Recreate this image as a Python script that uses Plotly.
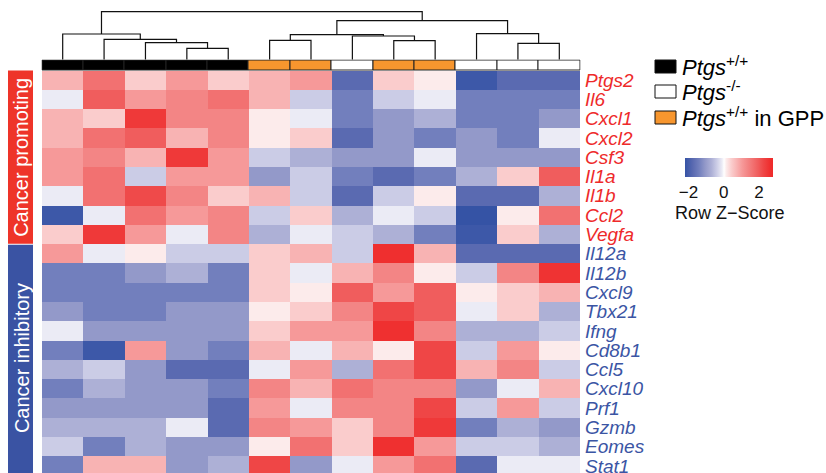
import plotly.graph_objects as go

W, H = 826, 473

genes = ["Ptgs2", "Il6", "Cxcl1", "Cxcl2", "Csf3", "Il1a", "Il1b", "Ccl2", "Vegfa",
         "Il12a", "Il12b", "Cxcl9", "Tbx21", "Ifng", "Cd8b1", "Ccl5", "Cxcl10",
         "Prf1", "Gzmb", "Eomes", "Stat1"]
n_promoting = 9

# sample groups in displayed (dendrogram) order
groups = ["wt", "wt", "wt", "wt", "wt", "gpp", "gpp", "ko", "gpp", "gpp", "ko", "ko", "ko"]

# row z-scores
zscores = [
    [0.75, 1.65, 0.45, 1.05, 0.45, 0.75, 1.05, -1.75, 0.45, 0.15, -2.1, -1.75, -1.75],
    [-0.1, 1.95, 1.05, 1.35, 1.65, 0.75, -0.4, -1.4, -0.4, -0.1, -1.4, -1.4, -1.4],
    [0.75, 0.45, 2.45, 1.35, 1.35, 0.15, -0.1, -1.4, -1.05, -0.7, -1.4, -1.4, -1.05],
    [0.75, 1.65, 1.95, 0.75, 1.35, 0.15, 0.45, -1.75, -1.05, -1.4, -1.05, -1.4, -0.1],
    [1.05, 1.35, 0.75, 2.45, 1.05, -0.4, -0.7, -1.05, -1.05, -0.1, -1.05, -1.05, -1.05],
    [1.05, 1.65, -0.4, 1.05, 1.05, -1.05, -0.4, -1.4, -1.75, -1.4, -0.7, 0.45, 1.95],
    [-0.1, 1.65, 2.2, 1.35, 0.45, 0.75, -0.4, -1.75, -0.4, 0.15, -1.75, -1.75, -0.7],
    [-2.1, -0.1, 1.65, 1.05, 1.35, -0.4, 0.45, -0.7, -0.1, -0.4, -2.2, 0.15, 1.65],
    [0.45, 2.45, 1.05, -0.1, 1.35, -0.7, -0.1, -0.4, -0.7, -1.4, -2.1, 0.45, -0.7],
    [1.05, -0.1, 0.15, -0.4, -0.4, 0.45, 0.75, -0.4, 2.65, 0.75, -1.75, -1.75, -1.75],
    [-1.4, -1.4, -1.05, -0.7, -1.4, 0.45, -0.1, 0.75, 1.35, 0.15, -0.4, 1.35, 2.55],
    [-1.4, -1.4, -1.4, -1.4, -1.4, 0.45, 0.15, 1.95, 1.05, 1.95, 0.15, 0.45, 0.75],
    [-1.05, -1.4, -1.4, -1.05, -1.05, 0.15, 0.45, 1.35, 2.25, 1.95, -0.1, 0.45, -0.7],
    [-0.1, -1.05, -1.05, -1.05, -1.05, 0.45, 1.05, 1.05, 2.6, 1.35, -0.7, -0.7, -0.4],
    [-1.4, -2.1, 1.05, -1.05, -1.4, 0.75, -0.1, 0.75, 0.15, 2.25, -0.4, 1.05, 0.15],
    [-0.7, -0.4, -1.05, -1.75, -1.75, -0.1, 1.05, -0.7, 1.65, 2.25, 0.75, 1.35, -0.4],
    [-1.4, -0.7, -1.05, -1.05, -1.4, 1.35, 0.75, 1.65, 1.35, 1.35, -1.05, -0.1, 0.75],
    [-1.05, -1.05, -1.05, -1.05, -1.75, 1.05, -0.1, 1.35, 1.35, 2.25, -0.4, 1.05, -0.4],
    [-0.7, -0.7, -0.7, -0.1, -1.75, 1.35, 1.05, 0.45, 1.35, 2.45, -1.4, -0.7, -1.05],
    [-0.4, -1.4, -0.7, -1.05, -1.05, 0.15, 1.65, 0.45, 2.6, 1.05, -0.4, -0.4, -0.7],
    [-1.4, 0.75, 0.75, -1.05, -0.7, 2.25, -1.05, -0.1, 1.05, 1.65, -1.75, -0.1, -0.1],
]

# column dendrogram merges: (child_a, child_b, height); leaves 0..12, new nodes 13..
merges = [
    (3, 4, 11.7), (2, 13, 17.3), (1, 14, 20.7), (0, 15, 26.0),
    (5, 6, 19.7), (8, 9, 19.3), (7, 18, 24.0), (17, 19, 25.3),
    (11, 12, 16.7), (10, 21, 26.3), (20, 22, 39.3), (16, 23, 48.3),
]

zmin, zmax = -2.2, 2.8
stops = [(-2.2, "#3553A5"), (-1.75, "#5A6AB1"), (-1.4, "#727FBD"), (-1.05, "#9399C9"),
         (-0.7, "#ADB0D6"), (-0.4, "#CBCCE6"), (-0.1, "#EBEBF5"), (0.02, "#FFFFFF"),
         (0.15, "#FCEBEB"), (0.45, "#FACCCC"), (0.75, "#F8B3B3"), (1.05, "#F69999"),
         (1.35, "#F38585"), (1.65, "#F27171"), (1.95, "#F05D5D"), (2.25, "#EF4646"),
         (2.6, "#EF3030"), (2.8, "#EE2A2A")]
colorscale = [[(v - zmin) / (zmax - zmin), c] for v, c in stops]

group_colors = {"wt": "#000000", "ko": "#FFFFFF", "gpp": "#F7962E"}
RED = "#EE2A2A"
BLUE = "#3B55A4"
FONT = "Liberation Sans, Arial, Helvetica, sans-serif"

def px(x):
    return x / W

def py(y):
    return 1 - y / H

ncol = len(groups)
col_w = (580 - 42) / ncol
row_h = 19.3
top = 70.5

fig = go.Figure()

fig.add_trace(go.Heatmap(
    z=zscores, x=list(range(ncol)), y=list(range(len(genes))),
    colorscale=colorscale, zmin=zmin, zmax=zmax, hoverinfo="skip",
    colorbar=dict(orientation="h", x=px(729), xanchor="center", y=py(158), yanchor="top",
                  len=88, lenmode="pixels", thickness=19, thicknessmode="pixels",
                  xpad=0, ypad=0,
                  outlinewidth=0, tickvals=[-2, 0, 2], ticktext=["\u22122", "0", "2"],
                  ticks="", tickfont=dict(family=FONT, size=17, color="#111")),
    xaxis="x", yaxis="y",
))

# annotation bar
fig.add_trace(go.Bar(
    x=list(range(ncol)), y=[1] * ncol, base=0, width=1,
    marker=dict(color=[group_colors[g] for g in groups], line=dict(color="#222", width=1)),
    xaxis="x2", yaxis="y2", hoverinfo="skip", showlegend=False,
))

# dendrogram
pos = {i: float(i) for i in range(ncol)}
hgt = {i: 0.0 for i in range(ncol)}
xs, ys = [], []
node = ncol
for a, b, h in merges:
    xa, xb = pos[a], pos[b]
    xs += [xa, xa, xb, xb, None]
    ys += [hgt[a], h, h, hgt[b], None]
    pos[node] = (xa + xb) / 2
    hgt[node] = h
    node += 1
fig.add_trace(go.Scatter(x=xs, y=ys, mode="lines", line=dict(color="#111", width=1.2),
                         xaxis="x", yaxis="y3", hoverinfo="skip", showlegend=False))

vis_rows = (H - top) / row_h
ext = 0.5 / col_w
fig.update_layout(
    width=W, height=H, margin=dict(l=0, r=0, t=0, b=0),
    paper_bgcolor="white", plot_bgcolor="white", showlegend=False, bargap=0,
    xaxis=dict(domain=[px(42), px(580)], range=[-0.5, ncol - 0.5], visible=False, fixedrange=True),
    yaxis=dict(domain=[0, py(top)], range=[-0.5 + vis_rows, -0.5], visible=False, fixedrange=True),
    xaxis2=dict(domain=[px(41.5), px(580.5)], range=[-0.5 - ext, ncol - 0.5 + ext], visible=False,
                anchor="y2"),
    yaxis2=dict(domain=[py(71), py(59.5)], range=[-0.5 / 10.5, 1 + 0.5 / 10.5], visible=False,
                anchor="x2"),
    yaxis3=dict(domain=[py(60), py(11)], range=[0, 49], visible=False, anchor="x"),
)

annotations = []
for i, g in enumerate(genes):
    annotations.append(dict(
        x=px(583), xref="paper", xanchor="left", y=i, yref="y", yanchor="middle",
        text="<i>%s</i>" % g, showarrow=False,
        font=dict(family=FONT, size=19, color=RED if i < n_promoting else BLUE)))

# side category boxes
split_y = top + n_promoting * row_h
shapes = [
    dict(type="rect", xref="paper", yref="paper", x0=px(8), x1=px(33), y0=py(split_y - 0.5), y1=py(top),
         fillcolor="#EE3429", line=dict(width=0)),
    dict(type="rect", xref="paper", yref="paper", x0=px(8), x1=px(33), y0=0, y1=py(split_y + 0.5),
         fillcolor="#3A53A3", line=dict(width=0)),
]
annotations.append(dict(x=px(21.5), y=py((top + split_y) / 2), xref="paper", yref="paper",
                        xanchor="center", yanchor="middle",
                        text="Cancer promoting", textangle=-90, showarrow=False,
                        font=dict(family=FONT, size=20, color="white")))
annotations.append(dict(x=px(21.5), y=py((split_y + H) / 2), xref="paper", yref="paper",
                        xanchor="center", yanchor="middle",
                        text="Cancer inhibitory", textangle=-90, showarrow=False,
                        font=dict(family=FONT, size=20, color="white")))

# group legend
legend_items = [("wt", "<i>Ptgs</i><sup>+/+</sup>", 73),
                ("ko", "<i>Ptgs</i><sup>-/-</sup>", 98),
                ("gpp", "<i>Ptgs</i><sup>+/+</sup> in GPP", 124)]
for g, label, base in legend_items:
    shapes.append(dict(type="rect", xref="paper", yref="paper", x0=px(655), x1=px(676),
                       y0=py(base), y1=py(base - 13), fillcolor=group_colors[g],
                       line=dict(color="#111", width=1)))
    annotations.append(dict(x=px(680), y=py(base - 7), xref="paper", yref="paper",
                            xanchor="left", yanchor="middle", text=label, showarrow=False,
                            font=dict(family=FONT, size=22, color="black")))

annotations.append(dict(x=px(730), y=py(213), xref="paper", yref="paper", text="Row Z\u2212Score",
                        xanchor="center", yanchor="middle",
                        showarrow=False, font=dict(family=FONT, size=18, color="#111")))

fig.update_layout(shapes=shapes, annotations=annotations)
fig.write_html("out.html")
